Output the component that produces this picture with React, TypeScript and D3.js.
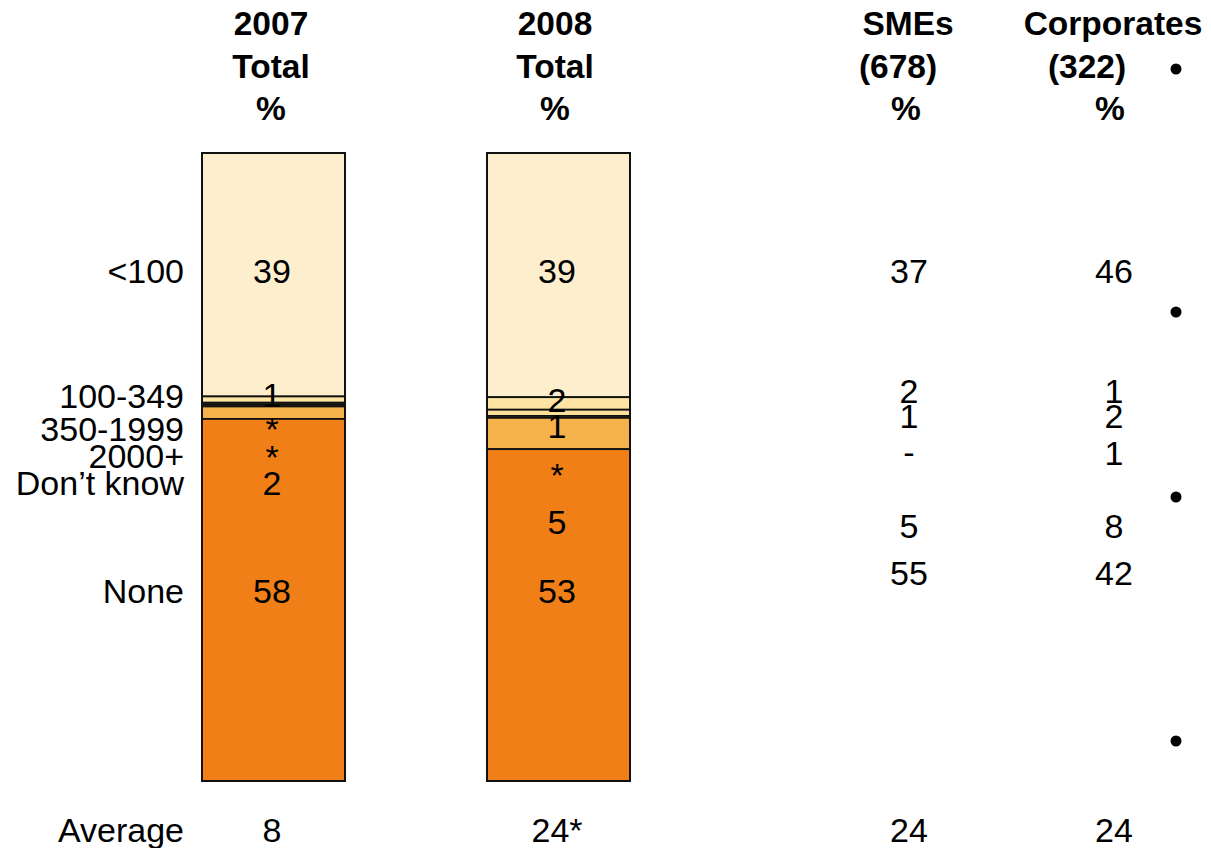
import React from "react";
import * as d3 from "d3";

// Number of employees — stacked shares for the two survey totals,
// plus the split for SMEs and corporates.
const categories = ["<100", "100-349", "350-1999", "2000+", "Don\u2019t know", "None"];

// "*" means less than 0.5%; drawn as a sliver of this size.
const STAR = 0.3;

const values2007 = [39, 1, STAR, STAR, 2, 58];
const labels2007 = ["39", "1", "*", "*", "2", "58"];

const values2008 = [39, 2, 1, STAR, 5, 53];
const labels2008 = ["39", "2", "1", "*", "5", "53"];

const labelsSMEs = ["37", "2", "1", "-", "5", "55"];
const labelsCorporates = ["46", "1", "2", "1", "8", "42"];

const averageLabels = ["8", "24*", "24", "24"];

const headers = [
  ["2007", "Total", "%"],
  ["2008", "Total", "%"],
  ["SMEs", "(678)", "%"],
  ["Corporates", "(322)", "%"],
];

const segmentColors = ["#FDEFCE", "#FEE5A3", "#FDE09A", "#FAD07E", "#F5B14A", "#F17F17"];

// ---- layout ----
const W = 1211;
const H = 848;
const FONT = "'Liberation Sans', Arial, Helvetica, sans-serif";
const FS = 34;
const HFS = 33.5;

const columnX = [272, 557, 909, 1114];
const headerX = [
  [271, 271, 271],
  [555, 555, 555],
  [908, 898, 906],
  [1113, 1087, 1110],
];
const headerBaselines = [35, 78, 120];

const barWidth = 143;
const barTop = 153;
const barBottom = 781;

const rowLabelRight = 184;
const rowBaselines = [283, 408, 441, 468, 495, 603];
const averageBaseline = 842;

const columnBaselines = [
  [283, 407, 441, 469, 495, 603],
  [283, 412, 438, 487, 534, 603],
  [283, 403, 428, 464, 538, 585],
  [283, 403, 428, 465, 538, 585],
];

const bulletX = 1176;
const bulletY = [69, 312, 497, 741];

type Seg = { cat: string; y0: number; y1: number; color: string };

function stackBar(vals: number[]): Seg[] {
  const total = d3.sum(vals);
  const y = d3.scaleLinear().domain([0, total]).range([barTop, barBottom]);
  const cum = d3.cumsum(vals);
  return vals.map((v, i) => ({
    cat: categories[i],
    y0: y(cum[i] - v),
    y1: y(cum[i]),
    color: segmentColors[i],
  }));
}

const txt = (x: number, y: number, s: string, anchor = "middle", bold = false, key?: string) => (
  <text
    key={key}
    x={x}
    y={y}
    textAnchor={anchor}
    fontFamily={FONT}
    fontSize={bold ? HFS : FS}
    fontWeight={bold ? "bold" : "normal"}
    fill="#000"
  >
    {s}
  </text>
);

export default function App() {
  const bars = [values2007, values2008].map(stackBar);
  const valueLabels = [labels2007, labels2008, labelsSMEs, labelsCorporates];

  return (
    <div style={{ position: "absolute", left: 0, top: 0 }}>
      <svg width={W} height={H} style={{ display: "block", background: "#fff" }}>
        {/* column headers */}
        {headers.map((lines, c) =>
          lines.map((s, l) => txt(headerX[c][l], headerBaselines[l], s, "middle", true, `h${c}-${l}`))
        )}

        {/* stacked bars */}
        {bars.map((segs, b) => {
          const x0 = columnX[b] + 1.5 - barWidth / 2;
          return (
            <g key={`bar${b}`}>
              {segs.map((s) => (
                <rect
                  key={s.cat}
                  x={x0}
                  y={s.y0}
                  width={barWidth}
                  height={Math.max(0, s.y1 - s.y0)}
                  fill={s.color}
                  stroke="#111"
                  strokeWidth={1.8}
                />
              ))}
              <rect
                x={x0}
                y={barTop}
                width={barWidth}
                height={barBottom - barTop}
                fill="none"
                stroke="#111"
                strokeWidth={2}
              />
            </g>
          );
        })}

        {/* row labels */}
        {categories.map((c, i) => txt(rowLabelRight, rowBaselines[i], c, "end", false, `r${i}`))}
        {txt(rowLabelRight, averageBaseline, "Average", "end", false, "avg")}

        {/* values per column */}
        {valueLabels.map((labs, c) =>
          labs.map((s, i) => txt(columnX[c], columnBaselines[c][i], s, "middle", false, `v${c}-${i}`))
        )}

        {/* averages */}
        {averageLabels.map((s, c) => txt(columnX[c], averageBaseline, s, "middle", false, `a${c}`))}

        {/* bullets of the neighbouring text panel */}
        {bulletY.map((y, i) => (
          <circle key={`b${i}`} cx={bulletX} cy={y} r={5.5} fill="#000" />
        ))}
      </svg>
    </div>
  );
}
